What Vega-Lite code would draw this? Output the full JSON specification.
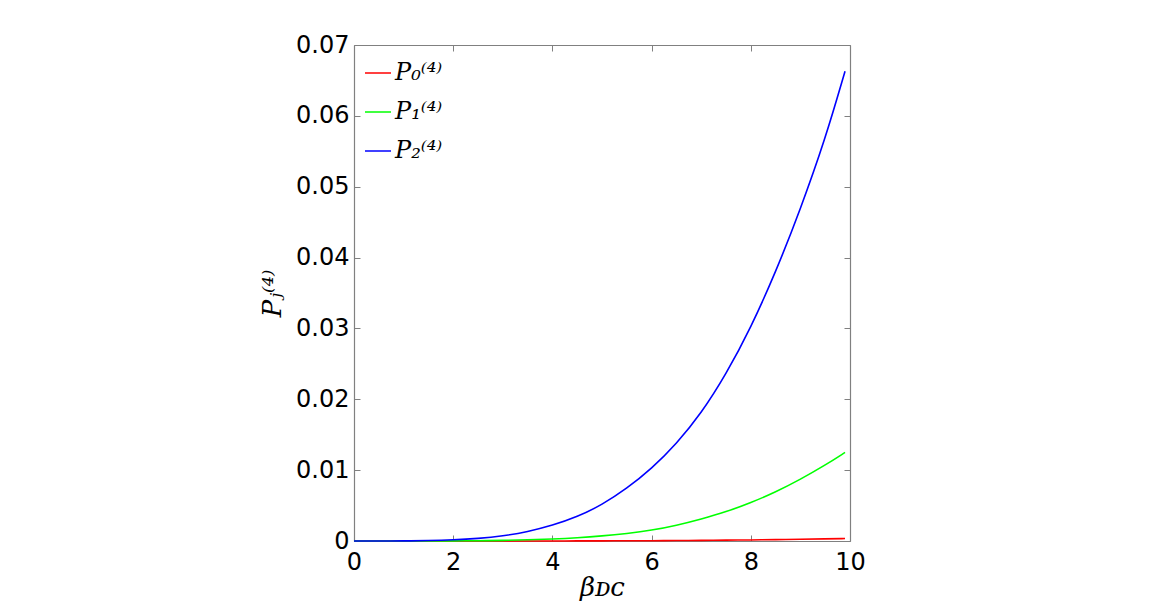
{
  "$schema": "https://vega.github.io/schema/vega-lite/v6.json",
  "width": 496,
  "height": 496,
  "autosize": {"type": "none"},
  "padding": {"left": 354, "top": 45, "right": 313, "bottom": 68},
  "background": "white",
  "config": {
    "view": {"stroke": null},
    "axis": {
      "domainColor": "#808080",
      "domainWidth": 1.2,
      "tickColor": "#808080",
      "tickWidth": 1,
      "tickSize": -6,
      "grid": false,
      "labelColor": "#000000",
      "labelFont": "DejaVu Sans",
      "labelFontSize": 24,
      "titleFont": "DejaVu Serif",
      "titleFontStyle": "italic",
      "titleFontWeight": "normal",
      "titleFontSize": 26,
      "titleColor": "#000000"
    }
  },
  "data": {
    "values": [
      {"b": 0, "p": 0, "s": "P₀⁽⁴⁾"},
      {"b": 0.5, "p": 0, "s": "P₀⁽⁴⁾"},
      {"b": 1, "p": 0, "s": "P₀⁽⁴⁾"},
      {"b": 1.5, "p": 0, "s": "P₀⁽⁴⁾"},
      {"b": 2, "p": 0, "s": "P₀⁽⁴⁾"},
      {"b": 2.5, "p": 0, "s": "P₀⁽⁴⁾"},
      {"b": 3, "p": 0.000001, "s": "P₀⁽⁴⁾"},
      {"b": 3.5, "p": 0.000004, "s": "P₀⁽⁴⁾"},
      {"b": 4, "p": 0.000008, "s": "P₀⁽⁴⁾"},
      {"b": 4.5, "p": 0.000013, "s": "P₀⁽⁴⁾"},
      {"b": 5, "p": 0.00002, "s": "P₀⁽⁴⁾"},
      {"b": 5.5, "p": 0.00003, "s": "P₀⁽⁴⁾"},
      {"b": 6, "p": 0.000045, "s": "P₀⁽⁴⁾"},
      {"b": 6.5, "p": 0.000065, "s": "P₀⁽⁴⁾"},
      {"b": 7, "p": 0.00009, "s": "P₀⁽⁴⁾"},
      {"b": 7.5, "p": 0.00012, "s": "P₀⁽⁴⁾"},
      {"b": 8, "p": 0.00015, "s": "P₀⁽⁴⁾"},
      {"b": 8.5, "p": 0.00019, "s": "P₀⁽⁴⁾"},
      {"b": 9, "p": 0.00024, "s": "P₀⁽⁴⁾"},
      {"b": 9.5, "p": 0.0003, "s": "P₀⁽⁴⁾"},
      {"b": 9.9, "p": 0.00035, "s": "P₀⁽⁴⁾"},
      {"b": 0, "p": 0, "s": "P₁⁽⁴⁾"},
      {"b": 0.5, "p": 0, "s": "P₁⁽⁴⁾"},
      {"b": 1, "p": 0.000001, "s": "P₁⁽⁴⁾"},
      {"b": 1.5, "p": 0.000005, "s": "P₁⁽⁴⁾"},
      {"b": 2, "p": 0.000015, "s": "P₁⁽⁴⁾"},
      {"b": 2.5, "p": 0.00004, "s": "P₁⁽⁴⁾"},
      {"b": 3, "p": 0.00009, "s": "P₁⁽⁴⁾"},
      {"b": 3.5, "p": 0.00016, "s": "P₁⁽⁴⁾"},
      {"b": 4, "p": 0.00028, "s": "P₁⁽⁴⁾"},
      {"b": 4.5, "p": 0.00045, "s": "P₁⁽⁴⁾"},
      {"b": 5, "p": 0.0007, "s": "P₁⁽⁴⁾"},
      {"b": 5.5, "p": 0.00105, "s": "P₁⁽⁴⁾"},
      {"b": 6, "p": 0.0015, "s": "P₁⁽⁴⁾"},
      {"b": 6.5, "p": 0.0022, "s": "P₁⁽⁴⁾"},
      {"b": 7, "p": 0.0031, "s": "P₁⁽⁴⁾"},
      {"b": 7.5, "p": 0.0041, "s": "P₁⁽⁴⁾"},
      {"b": 8, "p": 0.0054, "s": "P₁⁽⁴⁾"},
      {"b": 8.5, "p": 0.0069, "s": "P₁⁽⁴⁾"},
      {"b": 9, "p": 0.0087, "s": "P₁⁽⁴⁾"},
      {"b": 9.5, "p": 0.0107, "s": "P₁⁽⁴⁾"},
      {"b": 9.9, "p": 0.0125, "s": "P₁⁽⁴⁾"},
      {"b": 0, "p": 0, "s": "P₂⁽⁴⁾"},
      {"b": 0.5, "p": 0, "s": "P₂⁽⁴⁾"},
      {"b": 1, "p": 0.00001, "s": "P₂⁽⁴⁾"},
      {"b": 1.5, "p": 0.00005, "s": "P₂⁽⁴⁾"},
      {"b": 2, "p": 0.00015, "s": "P₂⁽⁴⁾"},
      {"b": 2.5, "p": 0.00035, "s": "P₂⁽⁴⁾"},
      {"b": 3, "p": 0.0007, "s": "P₂⁽⁴⁾"},
      {"b": 3.5, "p": 0.0013, "s": "P₂⁽⁴⁾"},
      {"b": 4, "p": 0.0022, "s": "P₂⁽⁴⁾"},
      {"b": 4.5, "p": 0.0034, "s": "P₂⁽⁴⁾"},
      {"b": 5, "p": 0.0051, "s": "P₂⁽⁴⁾"},
      {"b": 5.5, "p": 0.0074, "s": "P₂⁽⁴⁾"},
      {"b": 6, "p": 0.0102, "s": "P₂⁽⁴⁾"},
      {"b": 6.5, "p": 0.0137, "s": "P₂⁽⁴⁾"},
      {"b": 7, "p": 0.0180, "s": "P₂⁽⁴⁾"},
      {"b": 7.5, "p": 0.0235, "s": "P₂⁽⁴⁾"},
      {"b": 8, "p": 0.0301, "s": "P₂⁽⁴⁾"},
      {"b": 8.5, "p": 0.0379, "s": "P₂⁽⁴⁾"},
      {"b": 9, "p": 0.0468, "s": "P₂⁽⁴⁾"},
      {"b": 9.5, "p": 0.0567, "s": "P₂⁽⁴⁾"},
      {"b": 9.9, "p": 0.0663, "s": "P₂⁽⁴⁾"}
    ]
  },
  "layer": [
    {
      "mark": {"type": "line", "strokeWidth": 1.6, "interpolate": "basis"},
      "encoding": {
        "x": {
          "field": "b", "type": "quantitative",
          "scale": {"domain": [0, 10], "nice": false},
          "axis": {"orient": "bottom", "values": [0, 2, 4, 6, 8, 10], "format": "d", "labelPadding": 15, "title": "βᴅᴄ", "titlePadding": 0, "labelFlush": false}
        },
        "y": {
          "field": "p", "type": "quantitative",
          "scale": {"domain": [0, 0.07], "nice": false, "zero": true},
          "axis": {"orient": "left", "values": [0, 0.01, 0.02, 0.03, 0.04, 0.05, 0.06, 0.07], "format": ".2~f", "labelPadding": 11, "title": "Pⱼ⁽⁴⁾", "titlePadding": 10, "labelFlush": false}
        },
        "color": {
          "field": "s", "type": "nominal",
          "scale": {"domain": ["P₀⁽⁴⁾", "P₁⁽⁴⁾", "P₂⁽⁴⁾"], "range": ["#ff0000", "#00ff00", "#0000ff"]},
          "legend": {
            "orient": "none", "legendX": 10, "legendY": 14,
            "title": null,
            "symbolType": "stroke", "symbolSize": 676, "symbolStrokeWidth": 1.5,
            "labelFont": "DejaVu Serif", "labelFontStyle": "italic", "labelFontSize": 24,
            "labelColor": "#000000", "labelOffset": 3, "rowPadding": 13
          }
        }
      }
    },
    {
      "mark": {"type": "line", "opacity": 0},
      "encoding": {
        "x": {"field": "b", "type": "quantitative", "axis": {"orient": "top", "values": [0, 2, 4, 6, 8, 10], "labels": false, "title": null}},
        "y": {"field": "p", "type": "quantitative", "axis": {"orient": "right", "values": [0, 0.01, 0.02, 0.03, 0.04, 0.05, 0.06, 0.07], "labels": false, "title": null}}
      }
    }
  ],
  "resolve": {"axis": {"x": "independent", "y": "independent"}}
}
